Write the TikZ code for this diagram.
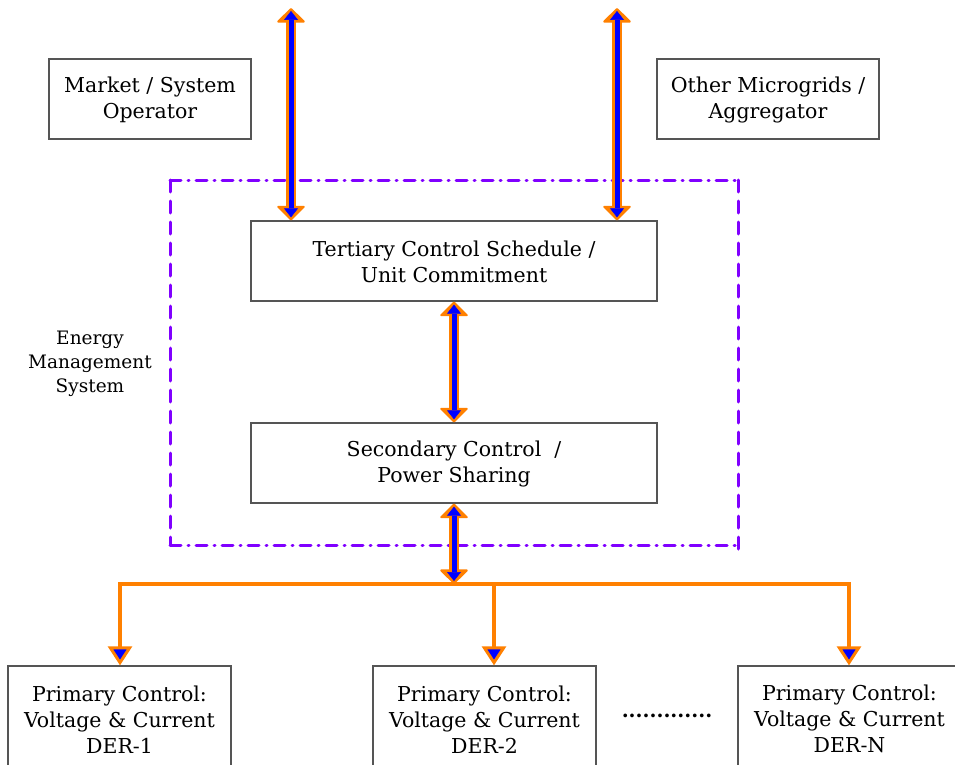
\documentclass[tikz,border=0pt]{standalone}
\usepackage{fontspec}
\setmainfont{DejaVu Serif}
\usetikzlibrary{arrows.meta}
\definecolor{ornge}{HTML}{FF8000}
\definecolor{blu}{HTML}{0000FF}
\definecolor{purp}{HTML}{8000FF}
\definecolor{boxgray}{HTML}{555555}
\tikzset{
  box/.style={draw=boxgray, line width=1.3pt, align=center, inner sep=0pt,
    font=\fontsize{20.5}{26}\selectfont},
  outerarr/.style={draw=ornge, line width=10.5pt,
    {Triangle[width=30pt,length=15pt,line width=2pt,round]}-{Triangle[width=30pt,length=15pt,line width=2pt,round]}},
  innerarr/.style={draw=blu, line width=5pt, shorten <=3pt, shorten >=3pt,
    {Triangle[width=14pt,length=9pt,line width=0.5pt]}-{Triangle[width=14pt,length=9pt,line width=0.5pt]}},
  bus/.style={draw=ornge, line width=4pt},
  drop/.style={bus, -{Triangle[width=24pt,length=19pt,line width=3pt,fill=blu]}},
  emsdashdot/.style={draw=purp, line width=3pt, line cap=round,
    dash pattern=on 11pt off 7pt on 1pt off 7pt},
  emsdash/.style={draw=purp, line width=3pt, line cap=round,
    dash pattern=on 12pt off 9pt},
}
\begin{document}
\begin{tikzpicture}[x=1pt,y=-1pt]
\useasboundingbox (0,0) rectangle (955,765);
% boxes
\node[box, minimum width=202pt, minimum height=80pt] (mkt) at (150,99) {\strut Market / System\\Operator};
\node[box, minimum width=222pt, minimum height=80pt] (oth) at (768,99) {\strut Other Microgrids /\\ Aggregator};
\node[box, minimum width=406pt, minimum height=80pt] (ter) at (454,261) {\strut Tertiary Control Schedule /\\Unit Commitment};
\node[box, minimum width=406pt, minimum height=80pt] (sec) at (454,463) {\strut Secondary Control\ \ /\\Power Sharing};
\node[box, minimum width=223pt, minimum height=104pt] (p1) at (119.5,718) {\strut Primary Control:\\Voltage \& Current\\DER-1};
\node[box, minimum width=223pt, minimum height=104pt] (p2) at (484.5,718) {\strut Primary Control:\\Voltage \& Current\\DER-2};
\node[box, minimum width=223pt, minimum height=104pt] (pn) at (849.5,718) {\strut Primary Control:\\Voltage \& Current\\DER-N};
\node[font=\fontsize{20}{26}\selectfont\bfseries, inner sep=0pt] (dots) at (667,716) {.............};
\node[align=center, inner sep=0pt, font=\fontsize{18.5}{24}\selectfont] (ems) at (90,364) {Energy\\Management\\System};
% EMS frame
\coordinate (e1) at (170,180);
\coordinate (e2) at (738,180);
\coordinate (e3) at (738,555);
\coordinate (e4) at (170,545);
\coordinate (e5) at (738,545);
\draw[emsdashdot] (e1) -- (e2);
\draw[emsdashdot] (e4) -- (e5);
\draw[emsdash] (e1) -- (e4);
\draw[emsdash] (e2) -- (e3);
% top arrows
\coordinate (a1) at (291,8);
\coordinate (a2) at (617,8);
\draw[outerarr] (a1) -- (a1 |- ter.north);
\draw[innerarr] (a1) -- (a1 |- ter.north);
\draw[outerarr] (a2) -- (a2 |- ter.north);
\draw[innerarr] (a2) -- (a2 |- ter.north);
% middle arrow
\draw[outerarr] (ter.south) -- (sec.north);
\draw[innerarr] (ter.south) -- (sec.north);
% bus
\coordinate (b0) at (454,584);
\coordinate (b1) at (120,584);
\coordinate (b2) at (494,584);
\coordinate (b3) at (849,584);
\draw[bus, line cap=rect] (b1) -- (b3);
\draw[drop] (b1) -- (b1 |- p1.north);
\draw[drop] (b2) -- (b2 |- p2.north);
\draw[drop] (b3) -- (b3 |- pn.north);
\draw[outerarr] (sec.south) -- (b0);
\draw[innerarr] (sec.south) -- (b0);
\end{tikzpicture}
\end{document}
